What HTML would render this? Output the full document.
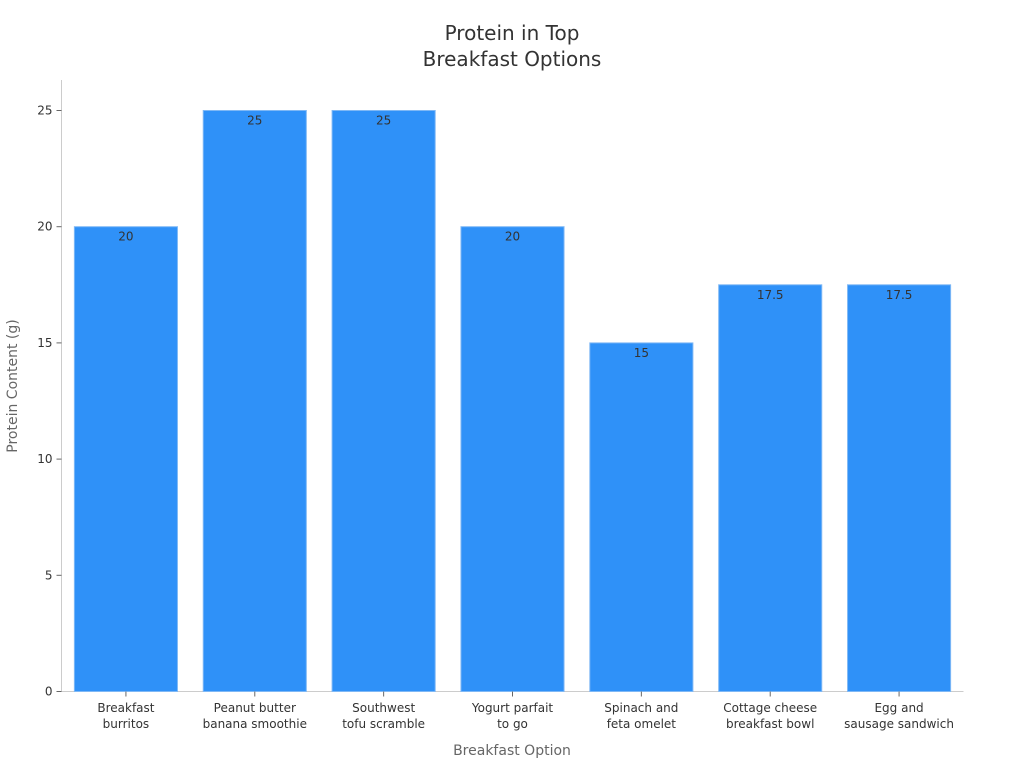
<!DOCTYPE html>
<html><head><meta charset="utf-8"><style>
html,body{margin:0;padding:0;background:#fff;}
svg text{font-family:"DejaVu Sans","Liberation Sans",sans-serif;}
</style></head><body>
<svg id="chart" width="1024" height="768" xmlns="http://www.w3.org/2000/svg">
<text x="512" y="40" text-anchor="middle" font-size="20" fill="#333">Protein in Top</text>
<text x="512" y="66" text-anchor="middle" font-size="20" fill="#333">Breakfast Options</text>
<g id="plot"></g>
<text x="512" y="755" text-anchor="middle" font-size="14" fill="#666">Breakfast Option</text>
<text transform="translate(17,386) rotate(-90)" text-anchor="middle" font-size="14" fill="#666">Protein Content (g)</text>
</svg>
<script>
const categories = [["Breakfast","burritos"],["Peanut butter","banana smoothie"],["Southwest","tofu scramble"],["Yogurt parfait","to go"],["Spinach and","feta omelet"],["Cottage cheese","breakfast bowl"],["Egg and","sausage sandwich"]];
const values = [20,25,25,20,15,17.5,17.5];
const yTicks = [0,5,10,15,20,25];
const NS="http://www.w3.org/2000/svg";
const g=document.getElementById('plot');
const x0=61.5,x1=963.5,yBase=691.5,yTop=80;
const yScale=v=>yBase-v*(691-110)/25;
const band=(x1-x0)/categories.length;
const xC=i=>x0+band*(i+0.5);
function mk(tag,attrs,txt){const e=document.createElementNS(NS,tag);for(const k in attrs)e.setAttribute(k,attrs[k]);if(txt!==undefined)e.textContent=txt;g.appendChild(e);return e;}
let ax=mk('line',{x1:x0,y1:yTop,x2:x0,y2:yBase,stroke:'#ccc'});


let bx=mk('line',{x1:x0,y1:yBase,x2:x1,y2:yBase,stroke:'#ccc'});


yTicks.forEach(t=>{
 const y=yScale(t);
 let l=mk('line',{x1:x0-5,y1:y,x2:x0,y2:y,stroke:'#666'});
 
 
 let tx=mk('text',{x:x0-9,y:y+4,'text-anchor':'end','font-size':12,fill:'#333'},t);
 
 
});
const bw=band*0.8;
values.forEach((v,i)=>{
 const cx=xC(i),y=yScale(v);
 let r=mk('rect',{x:cx-bw/2,y:y,width:bw,height:yBase-y,fill:'#2f91f8',stroke:'#7fb8f5','stroke-width':1});
 
 
 let lb=mk('text',{x:cx,y:y+14,'text-anchor':'middle','font-size':12,fill:'#333'},v);
 
 
 let tk=mk('line',{x1:cx,y1:yBase,x2:cx,y2:yBase+5,stroke:'#666'});
 
 
 categories[i].forEach((s,j)=>{
  let t=mk('text',{x:cx,y:712+j*16,'text-anchor':'middle','font-size':12,fill:'#333'},s);
  
  
 });
});
</script>
</body></html>
